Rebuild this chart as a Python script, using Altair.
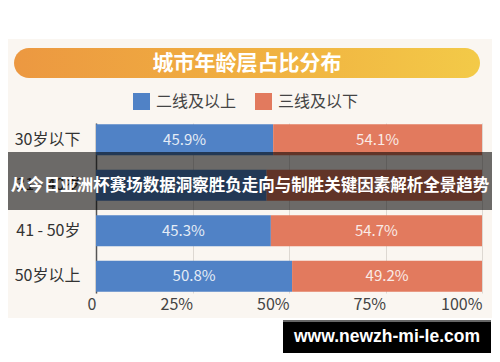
import altair as alt
import pandas as pd

# ---- data ----
categories = ["30岁以下", "31 - 40岁", "41 - 50岁", "50岁以上"]
series_names = ["二线及以上", "三线及以下"]
tier2_share = [45.9, 44.2, 45.3, 50.8]
tier3_share = [54.1, 55.8, 54.7, 49.2]
x_ticks = [0, 25, 50, 75, 100]
chart_title = "城市年龄层占比分布"
banner_text = "从今日亚洲杯赛场数据洞察胜负走向与制胜关键因素解析全景趋势"
watermark_text = "www.newzh-mi-le.com"

rows = []
for i, c in enumerate(categories):
    rows.append({"cat": c, "series": series_names[0], "value": tier2_share[i], "ord": 0})
    rows.append({"cat": c, "series": series_names[1], "value": tier3_share[i], "ord": 1})
df = pd.DataFrame(rows)

FONT = "Noto Sans CJK SC"
BLUE = "#5082C6"
RED = "#E27A5E"
CREAM = "#FAF6F1"

dec = alt.Chart(pd.DataFrame({"d": [0]}))

# white bands above and below the cream card (chart background is cream)
top_white = dec.mark_rect(fill="white").encode(
    x=alt.value(-88), x2=alt.value(396), y=alt.value(-115), y2=alt.value(-84))
bottom_white = dec.mark_rect(fill="white").encode(
    x=alt.value(-88), x2=alt.value(396), y=alt.value(195), y2=alt.value(231))

pill = dec.mark_rect(
    cornerRadius=15,
    fill=alt.Gradient(
        gradient="linear",
        stops=[alt.GradientStop(color="#EC9841", offset=0),
               alt.GradientStop(color="#F0AF40", offset=0.5),
               alt.GradientStop(color="#F3CA48", offset=1)],
        x1=0, x2=1, y1=0, y2=0),
).encode(x=alt.value(-82), x2=alt.value(384), y=alt.value(-75), y2=alt.value(-45))

title_txt = dec.mark_text(
    text=chart_title, font=FONT, fontSize=21, fontWeight="bold", color="white",
    align="center", baseline="middle",
).encode(x=alt.value(151), y=alt.value(-59))

y_enc = alt.Y(
    "cat:N", sort=categories,
    scale=alt.Scale(paddingInner=0.32, paddingOuter=0.03),
    axis=alt.Axis(title=None, domain=True, domainColor="#555555", domainWidth=1.5,
                  ticks=False, labelPadding=16, labelFontSize=16, labelFont=FONT,
                  labelColor="#333333", grid=False),
)
x_enc = alt.X(
    "value:Q", stack="zero", scale=alt.Scale(domain=[0, 100]),
    axis=alt.Axis(title=None, values=x_ticks,
                  labelExpr="datum.value == 0 ? '0' : datum.value + '%'",
                  domain=False, ticks=False, grid=True, gridColor="#DDD8D2",
                  labelAlign="right", labelBaseline="top", labelPadding=3,
                  labelFontSize=16, labelFont=FONT, labelColor="#444444"),
)

bars = alt.Chart(df).mark_bar().encode(
    x=x_enc,
    y=y_enc,
    order=alt.Order("ord:Q"),
    color=alt.Color(
        "series:N",
        scale=alt.Scale(domain=series_names, range=[BLUE, RED]),
        legend=alt.Legend(orient="none", legendX=37, legendY=-30, direction="horizontal",
                          title=None, symbolType="square", symbolSize=289,
                          symbolStrokeWidth=0, symbolOpacity=1, labelFontSize=16,
                          labelFont=FONT, labelColor="#444444", labelOffset=6,
                          columnPadding=18, padding=0),
    ),
)

labels = alt.Chart(df).transform_stack(
    stack="value", as_=["v0", "v1"], groupby=["cat"], sort=[alt.SortField("ord")]
).transform_calculate(
    mid="(datum.v0 + datum.v1) / 2",
    lab="format(datum.value, '.1f') + '%'",
).mark_text(
    font=FONT, fontSize=15, color="white", opacity=0.85, align="center", baseline="middle"
).encode(
    x=alt.X("mid:Q", title=None),
    y=alt.Y("cat:N", sort=categories, title=None),
    text="lab:N",
)

overlay = dec.mark_rect(fill="black", opacity=0.57).encode(
    x=alt.value(-88), x2=alt.value(396), y=alt.value(29), y2=alt.value(87))

overlay_txt = dec.mark_text(
    text=banner_text, font=FONT, fontSize=16.5, fontWeight="bold", color="white",
    align="center", baseline="middle",
).encode(x=alt.value(154), y=alt.value(63))

wm_line = dec.mark_rect(fill="#666666").encode(
    x=alt.value(187), x2=alt.value(395), y=alt.value(197), y2=alt.value(199))
wm_rect = dec.mark_rect(fill="black").encode(
    x=alt.value(187), x2=alt.value(395), y=alt.value(199), y2=alt.value(230))
wm_txt = dec.mark_text(
    text=watermark_text, font="Liberation Sans", fontSize=17.5, fontWeight="bold",
    color="white", align="center", baseline="middle",
).encode(x=alt.value(291), y=alt.value(214))

chart = alt.layer(
    top_white, bottom_white, pill, title_txt, bars, labels, overlay, overlay_txt,
    wm_line, wm_rect, wm_txt
).properties(
    width=386, height=170,
    padding={"left": 88, "top": 115, "right": 10, "bottom": 61},
    autosize=alt.AutoSizeParams(type="none"),
    background=CREAM,
).configure_view(stroke=None)

chart.save("out.html", embed_options={"renderer": "svg", "actions": False})
